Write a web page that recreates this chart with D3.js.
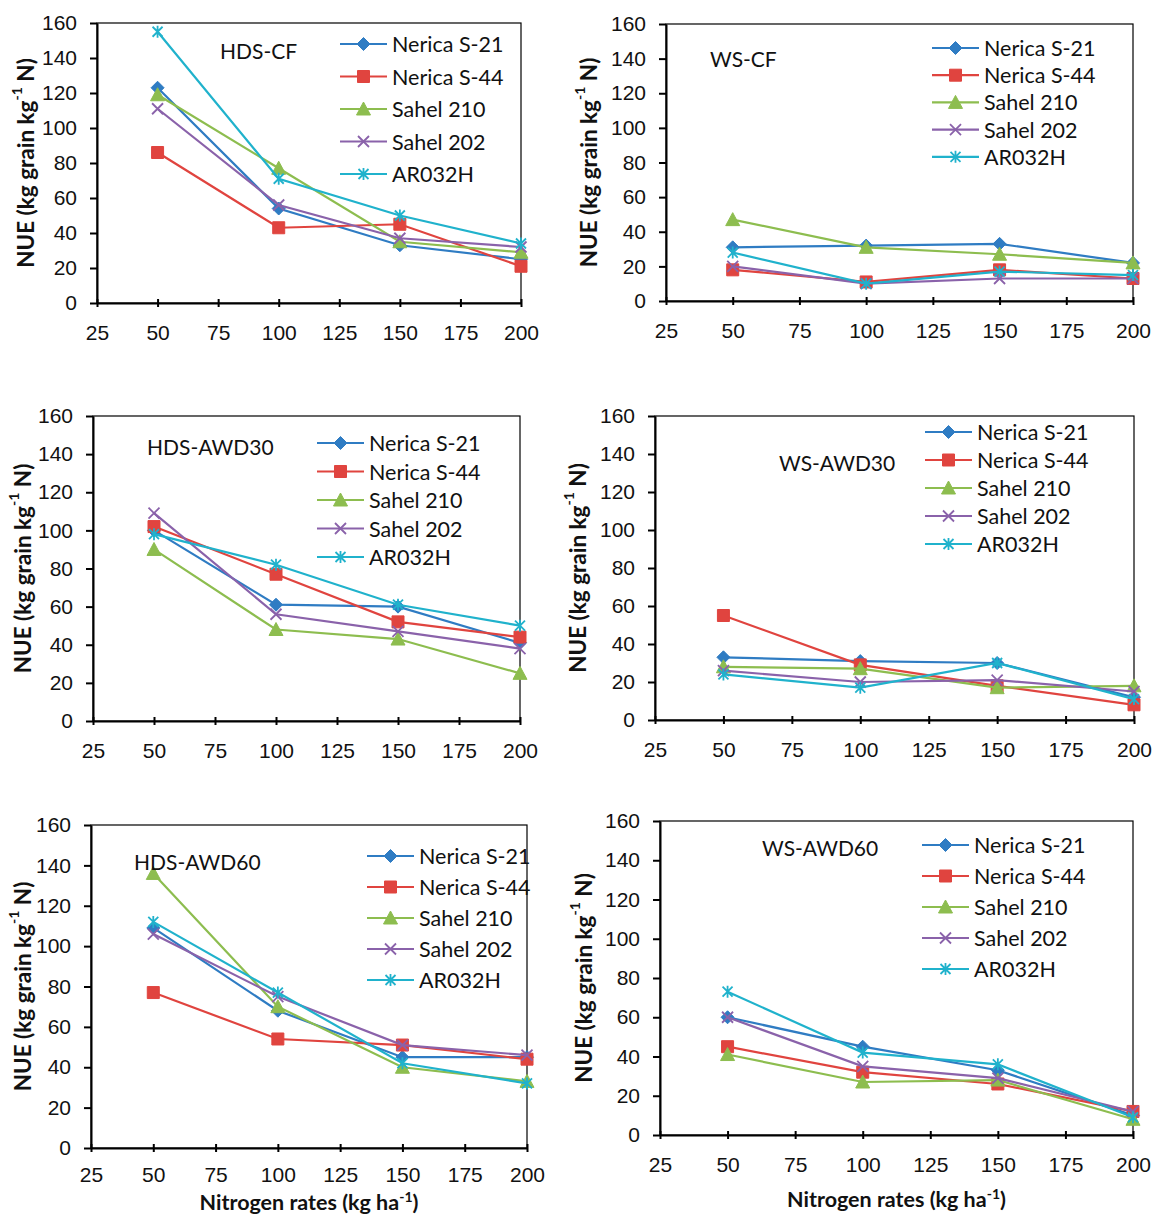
<!DOCTYPE html>
<html>
<head>
<meta charset="utf-8">
<script src="https://cdn.jsdelivr.net/npm/d3@7"></script>
<style>
  body { margin: 0; background: #fff; }
  svg { display: block; font-family: Lato, "Open Sans", sans-serif; }
  .tick text { font-size: 21px; fill: #111; }
  .axis path, .axis line { stroke: #000; stroke-width: 2; }
</style>
</head>
<body>
<svg id="chart" width="1153" height="1215"></svg>
<script>
// x positions: nitrogen rates (kg ha-1)
const nRates = [50, 100, 150, 200];
const xTicks = [25, 50, 75, 100, 125, 150, 175, 200];
const yTicks = [0, 20, 40, 60, 80, 100, 120, 140, 160];

const cultivars = ["Nerica S-21", "Nerica S-44", "Sahel 210", "Sahel 202", "AR032H"];
const colors = ["#2f7cc3", "#e0443f", "#8dbd4f", "#8a62aa", "#20b2cc"];
const markers = ["diamond", "square", "triangle", "cross", "star"];

// NUE values, one row per cultivar (order as cultivars)
const hdsCF = [
  [123, 54, 33, 25],
  [86, 43, 45, 21],
  [119, 77, 35, 29],
  [111, 56, 37, 32],
  [155, 71, 50, 34]
];
const wsCF = [
  [31, 32, 33, 22],
  [18, 11, 18, 13],
  [47, 31, 27, 22],
  [20, 10, 13, 13],
  [28, 10, 17, 15]
];
const hdsAWD30 = [
  [100, 61, 60, 41],
  [102, 77, 52, 44],
  [90, 48, 43, 25],
  [109, 56, 47, 38],
  [98, 82, 61, 50]
];
const wsAWD30 = [
  [33, 31, 30, 12],
  [55, 29, 18, 8],
  [28, 27, 17, 18],
  [26, 20, 21, 15],
  [24, 17, 30, 11]
];
const hdsAWD60 = [
  [109, 68, 45, 45],
  [77, 54, 51, 44],
  [136, 70, 40, 33],
  [106, 75, 51, 46],
  [112, 77, 42, 32]
];
const wsAWD60 = [
  [60, 45, 33, 10],
  [45, 32, 26, 12],
  [41, 27, 28, 8],
  [60, 35, 29, 12],
  [73, 42, 36, 9]
];

const titles = ["HDS-CF", "WS-CF", "HDS-AWD30", "WS-AWD30", "HDS-AWD60", "WS-AWD60"];
const series = [hdsCF, wsCF, hdsAWD30, wsAWD30, hdsAWD60, wsAWD60];

// layout of each panel: plot box, title spot, legend spot, y label x
const layout = [
  {x0: 97,  x1: 521,  y0: 303,  y1: 23,  tx: 220, ty: 50,  lx: 340, ly: 44,  ldy: 32.5, yl: 25,  pad: 18, xt: false},
  {x0: 666, x1: 1133, y0: 301,  y1: 24,  tx: 710, ty: 58,  lx: 932, ly: 48,  ldy: 27.2, yl: 588, pad: 18, xt: false},
  {x0: 93,  x1: 520,  y0: 721,  y1: 416, tx: 147, ty: 446, lx: 317, ly: 443, ldy: 28.5, yl: 22,  pad: 18, xt: false},
  {x0: 655, x1: 1134, y0: 720,  y1: 416, tx: 779, ty: 462, lx: 925, ly: 432, ldy: 28,   yl: 577, pad: 18, xt: false},
  {x0: 91,  x1: 527,  y0: 1148, y1: 825, tx: 134, ty: 861, lx: 367, ly: 856, ldy: 31,   yl: 22,  pad: 15, xt: true, xty: 1210},
  {x0: 660, x1: 1133, y0: 1135, y1: 821, tx: 762, ty: 847, lx: 922, ly: 845, ldy: 31,   yl: 583, pad: 18, xt: true, xty: 1207}
];

const svg = d3.select("#chart");

/**
 * Marker path centred on 0,0
 */
function markerPath(type) {
  switch (type) {
    case "diamond": return "M0,-6.5L6.5,0L0,6.5L-6.5,0Z";
    case "square": return "M-6,-6H6V6H-6Z";
    case "triangle": return "M0,-7L7,6H-7Z";
    case "cross": return "M-5.5,-5.5L5.5,5.5M-5.5,5.5L5.5,-5.5";
    case "star": return "M-5,-5L5,5M-5,5L5,-5M0,-6V6";
  }
}

function drawMarker(g, type, color, x, y) {
  const stroked = (type === "cross" || type === "star");
  g.append("path")
    .attr("d", markerPath(type))
    .attr("transform", "translate(" + x + "," + y + ")")
    .attr("fill", stroked ? "none" : color)
    .attr("stroke", color)
    .attr("stroke-width", stroked ? 1.8 : 1);
}

function yLabel(g, x, y) {
  const t = g.append("text")
    .attr("transform", "translate(" + x + "," + y + ") rotate(-90)")
    .attr("text-anchor", "middle")
    .attr("dominant-baseline", "central")
    .attr("font-weight", "bold")
    .attr("font-size", 22.5)
    .attr("fill", "#111");
  t.append("tspan").text("NUE (kg grain kg");
  t.append("tspan").attr("baseline-shift", "super").attr("font-size", 14).text("-1");
  t.append("tspan").text(" N)");
}

function xLabel(g, x, y) {
  const t = g.append("text")
    .attr("x", x).attr("y", y)
    .attr("text-anchor", "middle")
    .attr("font-weight", "bold")
    .attr("font-size", 21.5)
    .attr("fill", "#111");
  t.append("tspan").text("Nitrogen rates (kg ha");
  t.append("tspan").attr("baseline-shift", "super").attr("font-size", 14).text("-1");
  t.append("tspan").text(")");
}

layout.forEach((p, i) => {
  const g = svg.append("g");
  const x = d3.scaleLinear().domain([25, 200]).range([p.x0, p.x1]);
  const y = d3.scaleLinear().domain([0, 160]).range([p.y0, p.y1]);

  // plot area border
  g.append("rect")
    .attr("x", p.x0).attr("y", p.y1)
    .attr("width", p.x1 - p.x0).attr("height", p.y0 - p.y1)
    .attr("fill", "none").attr("stroke", "#000").attr("stroke-width", 1.2);

  const xAxis = g.append("g").attr("class", "axis")
    .attr("transform", "translate(0," + p.y0 + ")")
    .call(d3.axisBottom(x).tickValues(xTicks).tickSizeInner(4).tickSizeOuter(0).tickPadding(p.pad));
  xAxis.selectAll(".tick line").attr("y1", -4).attr("y2", 4);

  g.append("g").attr("class", "axis")
    .attr("transform", "translate(" + p.x0 + ",0)")
    .call(d3.axisLeft(y).tickValues(yTicks).tickSizeInner(7).tickSizeOuter(0).tickPadding(13));

  g.selectAll(".axis .domain").attr("stroke-width", 2);

  // series lines and markers
  const line = d3.line().x((d, k) => x(nRates[k])).y(d => y(d));
  series[i].forEach((vals, s) => {
    g.append("path")
      .attr("d", line(vals))
      .attr("fill", "none")
      .attr("stroke", colors[s])
      .attr("stroke-width", 2.2);
    vals.forEach((v, k) => drawMarker(g, markers[s], colors[s], x(nRates[k]), y(v)));
  });

  // panel title
  g.append("text")
    .attr("x", p.tx).attr("y", p.ty)
    .attr("dominant-baseline", "central")
    .attr("font-size", 21)
    .attr("fill", "#111")
    .text(titles[i]);

  // legend
  cultivars.forEach((c, s) => {
    const ly = p.ly + s * p.ldy;
    g.append("line")
      .attr("x1", p.lx).attr("x2", p.lx + 47)
      .attr("y1", ly).attr("y2", ly)
      .attr("stroke", colors[s]).attr("stroke-width", 2.2);
    drawMarker(g, markers[s], colors[s], p.lx + 23.5, ly);
    g.append("text")
      .attr("x", p.lx + 52).attr("y", ly)
      .attr("dominant-baseline", "central")
      .attr("font-size", 21.5)
      .attr("fill", "#111")
      .text(c);
  });

  yLabel(g, p.yl, (p.y0 + p.y1) / 2);
  if (p.xt) xLabel(g, (p.x0 + p.x1) / 2, p.xty);
});
</script>
</body>
</html>
